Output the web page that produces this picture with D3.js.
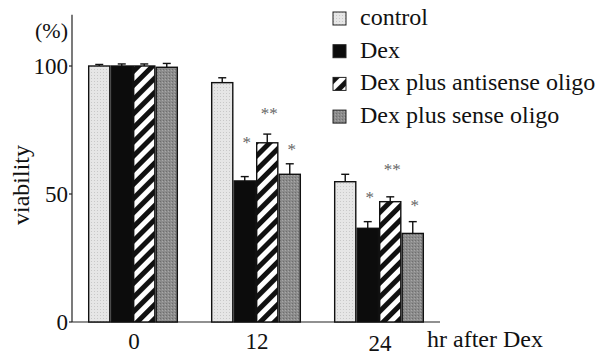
<!DOCTYPE html>
<html>
<head>
<meta charset="utf-8">
<style>
body { margin: 0; background: #fff; }
svg { font-family: "Liberation Serif", "DejaVu Serif", serif; }
</style>
</head>
<body>
<svg width="605" height="355"></svg>
<script src="https://d3js.org/d3.v7.min.js"></script>
<script>
// data
var groups = ["0", "12", "24"];
var series = ["control", "Dex", "Dex plus antisense oligo", "Dex plus sense oligo"];
var values = [
  [100, 100, 100, 99.5],
  [93.5, 55.1, 70.0, 57.7],
  [54.8, 36.6, 47.0, 34.6]
];
var errors = [
  [0.6, 0.8, 0.8, 1.5],
  [1.9, 1.7, 3.4, 4.1],
  [2.9, 2.6, 1.9, 4.6]
];
// significance marks: [group, series, label, height in %]
var stars = [
  [1, 1, "*", 71], [1, 2, "**", 82.5], [1, 3, "*", 68.5],
  [2, 1, "*", 49.5], [2, 2, "**", 60.5], [2, 3, "*", 46.5]
];
var yTicks = [0, 50, 100];

var svg = d3.select("svg");
var baseY = 322;

var y = d3.scaleLinear().domain([0, 120]).range([baseY, baseY - 120 * 2.56]);
var x0 = d3.scaleBand().domain(groups).range([72, 440])
    .paddingInner(0.268).paddingOuter(0.13);
var x1 = d3.scaleBand().domain(d3.range(series.length)).range([0, x0.bandwidth()]);

// patterns
var defs = svg.append("defs");
var pLight = defs.append("pattern").attr("id", "pLight")
    .attr("width", 3).attr("height", 3).attr("patternUnits", "userSpaceOnUse");
pLight.append("rect").attr("width", 3).attr("height", 3).attr("fill", "#e6e6e6");
pLight.append("rect").attr("width", 1).attr("height", 1).attr("fill", "#c8c8c8");

var pGray = defs.append("pattern").attr("id", "pGray")
    .attr("width", 3).attr("height", 3).attr("patternUnits", "userSpaceOnUse");
pGray.append("rect").attr("width", 3).attr("height", 3).attr("fill", "#8c8c8c");
pGray.append("rect").attr("width", 1).attr("height", 1).attr("fill", "#6e6e6e");
pGray.append("rect").attr("x", 2).attr("y", 1).attr("width", 1).attr("height", 1).attr("fill", "#a8a8a8");

var pHatch = defs.append("pattern").attr("id", "pHatch")
    .attr("width", 10).attr("height", 10).attr("patternUnits", "userSpaceOnUse")
    .attr("patternTransform", "rotate(45)");
pHatch.append("rect").attr("width", 10).attr("height", 10).attr("fill", "#fff");
pHatch.append("rect").attr("width", 5).attr("height", 10).attr("fill", "#111");

var fills = ["url(#pLight)", "#0c0c0c", "url(#pHatch)", "url(#pGray)"];

// axes
var axisG = svg.append("g").attr("stroke", "#222").attr("stroke-width", 1.2);
axisG.append("line").attr("x1", 72).attr("x2", 72).attr("y1", y(120)).attr("y2", baseY);
axisG.append("line").attr("x1", 72).attr("x2", 440).attr("y1", baseY).attr("y2", baseY);
axisG.selectAll(".tick").data(yTicks).enter().append("line")
    .attr("x1", 69).attr("x2", 72).attr("y1", d => y(d)).attr("y2", d => y(d));

svg.selectAll(".ylab").data(yTicks).enter().append("text")
    .attr("x", 68).attr("y", d => y(d) + 8)
    .attr("text-anchor", "end").attr("font-size", 23).attr("fill", "#111")
    .text(d => d);

svg.append("text").attr("x", 68).attr("y", 38).attr("text-anchor", "end")
    .attr("font-size", 22).attr("fill", "#111").text("(%)");

svg.append("text").attr("transform", "translate(29,185) rotate(-90)")
    .attr("text-anchor", "middle").attr("font-size", 24).attr("fill", "#111")
    .text("viability");

svg.selectAll(".xlab").data(groups).enter().append("text")
    .attr("x", d => x0(d) + x0.bandwidth() / 2 + 1).attr("y", (d, i) => i == 2 ? 351 : 349)
    .attr("text-anchor", "middle").attr("font-size", 23).attr("fill", "#111")
    .text(d => d);

svg.append("text").attr("x", 427).attr("y", 347).attr("font-size", 24)
    .attr("fill", "#111").text("hr after Dex");

// bars
var gBars = svg.selectAll(".grp").data(groups).enter().append("g")
    .attr("transform", d => "translate(" + x0(d) + ",0)");

gBars.selectAll(".err").data((d, i) => values[i].map((v, j) => ({v: v, e: errors[i][j], j: j})))
  .enter().append("g").each(function(d) {
    var g = d3.select(this), cx = x1(d.j) + x1.bandwidth() / 2;
    g.append("line").attr("x1", cx).attr("x2", cx).attr("y1", y(d.v)).attr("y2", y(d.v + d.e))
        .attr("stroke", "#111").attr("stroke-width", 1.4);
    g.append("line").attr("x1", cx - 4).attr("x2", cx + 4).attr("y1", y(d.v + d.e)).attr("y2", y(d.v + d.e))
        .attr("stroke", "#111").attr("stroke-width", 1.4);
  });

gBars.selectAll("rect").data((d, i) => values[i].map((v, j) => ({v: v, j: j})))
  .enter().append("rect")
    .attr("x", d => x1(d.j) + 0.7)
    .attr("width", x1.bandwidth() - 1.4)
    .attr("y", d => y(d.v))
    .attr("height", d => baseY - y(d.v))
    .attr("fill", d => fills[d.j])
    .attr("stroke", "#111").attr("stroke-width", 1.4);

// stars
svg.selectAll(".star").data(stars).enter().append("text")
    .attr("x", d => x0(groups[d[0]]) + x1(d[1]) + x1.bandwidth() / 2 + 2)
    .attr("y", d => y(d[3]) + 8)
    .attr("text-anchor", "middle").attr("font-size", 17).attr("fill", "#666")
    .text(d => d[2]);

// legend
var leg = svg.selectAll(".leg").data(series).enter().append("g")
    .attr("transform", (d, i) => "translate(333," + (12 + i * 32.7) + ")");
leg.append("rect").attr("width", 13).attr("height", 13)
    .attr("fill", (d, i) => fills[i]).attr("stroke", "#222").attr("stroke-width", 1);
leg.append("text").attr("x", 27).attr("y", 13)
    .attr("font-size", 24).attr("fill", "#111").text(d => d);
</script>
</body>
</html>
